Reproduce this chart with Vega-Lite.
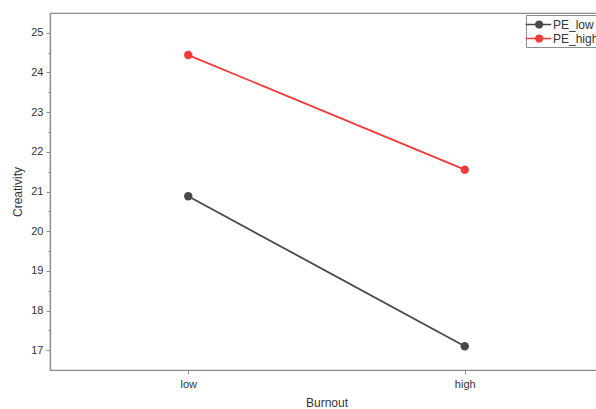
{
  "$schema": "https://vega.github.io/schema/vega-lite/v6.json",
  "autosize": "none",
  "width": 553,
  "height": 357,
  "padding": {"left": 50, "top": 13, "right": 0, "bottom": 39},
  "background": "white",
  "config": {
    "font": "Liberation Sans",
    "view": {"stroke": "#8c8c8c", "strokeWidth": 1.2}
  },
  "data": {
    "values": [
      {"Burnout": "low", "Group": "PE_low", "Creativity": 20.88},
      {"Burnout": "high", "Group": "PE_low", "Creativity": 17.1},
      {"Burnout": "low", "Group": "PE_high", "Creativity": 24.44},
      {"Burnout": "high", "Group": "PE_high", "Creativity": 21.55}
    ]
  },
  "encoding": {
    "x": {
      "field": "Burnout", "type": "ordinal", "sort": ["low", "high"],
      "scale": {"type": "point", "padding": 0.5},
      "axis": {
        "title": "Burnout", "labelAngle": 0, "labelFontSize": 11, "labelColor": "#333",
        "titleFontSize": 12, "titleFontWeight": "normal", "titleColor": "#333", "titlePadding": 8,
        "domainColor": "#8c8c8c", "domainWidth": 1.2, "tickColor": "#8c8c8c", "tickSize": 4, "labelPadding": 4
      }
    },
    "y": {
      "field": "Creativity", "type": "quantitative",
      "scale": {"domain": [16.5, 25.5], "nice": false, "zero": false},
      "axis": {
        "title": "Creativity", "grid": false,
        "values": [17, 17.5, 18, 18.5, 19, 19.5, 20, 20.5, 21, 21.5, 22, 22.5, 23, 23.5, 24, 24.5, 25],
        "labelExpr": "datum.value % 1 === 0 ? datum.label : ''",
        "format": ".1~f",
        "labelFontSize": 11, "labelColor": "#333",
        "titleFontSize": 12, "titleFontWeight": "normal", "titleColor": "#333", "titlePadding": 6,
        "domainColor": "#8c8c8c", "domainWidth": 1.2, "tickColor": "#8c8c8c",
        "tickSize": {"condition": {"test": "datum.value % 1 !== 0", "value": 2}, "value": 4},
        "labelPadding": 3
      }
    },
    "color": {
      "field": "Group", "type": "nominal",
      "scale": {"domain": ["PE_low", "PE_high"], "range": ["#484848", "#f23a3a"]},
      "legend": {
        "title": null, "orient": "top-right", "offset": 2,
        "fillColor": "white", "strokeColor": "#8c8c8c", "padding": 2,
        "labelFontSize": 12, "labelColor": "#333", "labelOffset": 5,
        "symbolType": "M-2.2,0L-0.7,0A0.5,0.5 0 1,1 0.3,0A0.5,0.5 0 1,1 -0.7,0M0.3,0L1.6,0",
        "symbolSize": 182, "symbolOffset": 5, "symbolStrokeWidth": 1.5, "rowPadding": 0,
        "encode": {"symbols": {"update": {"fill": {"scale": "color", "field": "value"}, "stroke": {"scale": "color", "field": "value"}}}}
      }
    }
  },
  "layer": [
    {"mark": {"type": "line", "strokeWidth": 1.8}},
    {"mark": {"type": "point", "filled": true, "size": 70, "opacity": 1}}
  ]
}
